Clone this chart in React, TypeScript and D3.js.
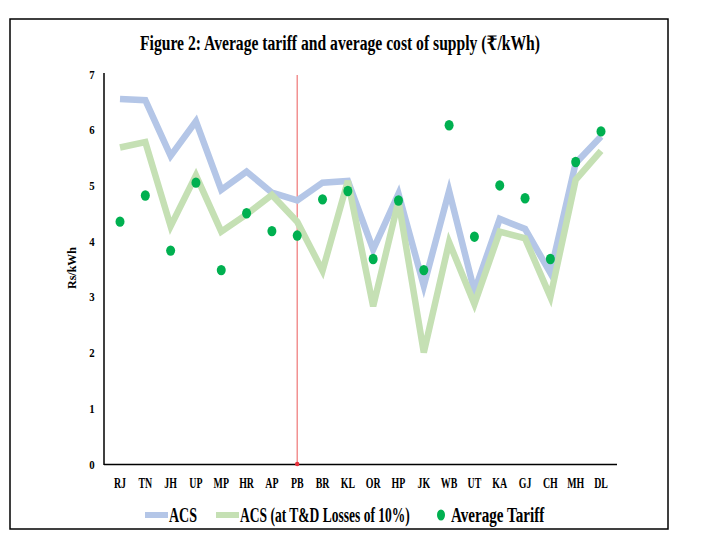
import React from "react";
import * as d3 from "d3";

const categories = ["RJ","TN","JH","UP","MP","HR","AP","PB","BR","KL","OR","HP","JK","WB","UT","KA","GJ","CH","MH","DL"];
const acs = [6.55,6.53,5.53,6.15,4.92,5.25,4.87,4.73,5.05,5.08,3.85,4.85,3.2,4.9,3.1,4.4,4.22,3.43,5.4,5.88];
const acsLoss = [5.68,5.78,4.27,5.18,4.17,4.48,4.83,4.35,3.47,5.08,2.83,4.72,2.0,3.98,2.87,4.17,4.05,3.0,5.1,5.62];
const tariff = [4.35,4.82,3.83,5.05,3.48,4.5,4.18,4.1,4.75,4.9,3.68,4.73,3.48,6.08,4.08,5.0,4.77,3.68,5.42,5.97];
const yTicks = [0,1,2,3,4,5,6,7];
const markerCategory = "PB";

const serif = "'Liberation Serif', 'Times New Roman', 'DejaVu Serif', serif";

export default function App() {
  const x = d3.scalePoint<string>().domain(categories).range([120, 601]);
  const y = d3.scaleLinear().domain([0, 7]).range([464, 74]);
  const line = d3.line<number>().x((_, i) => x(categories[i])!).y((d) => y(d));
  const blue = "#b4c6e7";
  const green = "#c5e0b4";
  const dot = "#00b050";

  return (
    <svg width={720} height={540} style={{ position: "absolute", left: 0, top: 0, background: "#fff" }}>
      <rect x={10} y={19} width={658} height={510} fill="#fff" stroke="#000" strokeWidth={1.5} />
      <text x={340} y={50} textAnchor="middle" fontFamily={serif} fontWeight="bold" fontSize={20} textLength={400} lengthAdjust="spacingAndGlyphs">
        Figure 2: Average tariff and average cost of supply (₹/kWh)
      </text>
      {/* axes */}
      <line x1={104} y1={73} x2={104} y2={465} stroke="#000" strokeWidth={1.5} />
      <line x1={104} y1={464.5} x2={617} y2={464.5} stroke="#000" strokeWidth={1.5} />
      {yTicks.map((t) => (
        <g key={t} transform={`translate(92,${y(t) + 4.5}) scale(0.8,1)`}>
          <text x={0} y={0} textAnchor="middle" fontFamily={serif} fontWeight="bold" fontSize={13.5}>{t}</text>
        </g>
      ))}
      {categories.map((c) => (
        <g key={"l" + c} transform={`translate(${x(c)},488) scale(0.66,1)`}>
          <text x={0} y={0} textAnchor="middle" fontFamily={serif} fontWeight="bold" fontSize={15}>{c}</text>
        </g>
      ))}
      <g transform="translate(76,268) rotate(-90)">
        <text textAnchor="middle" fontFamily={serif} fontWeight="bold" fontSize={12}>Rs/kWh</text>
      </g>
      {/* red marker line */}
      <line x1={x(markerCategory)} y1={75} x2={x(markerCategory)} y2={464} stroke="#f08080" strokeWidth={1.3} />
      <circle cx={x(markerCategory)} cy={464} r={2.2} fill="#e8303a" />
      {/* series */}
      <path d={line(acs)!} fill="none" stroke={blue} strokeWidth={6.5} strokeLinejoin="miter" />
      <path d={line(acsLoss)!} fill="none" stroke={green} strokeWidth={6.5} strokeLinejoin="miter" />
      {tariff.map((v, i) => (
        <ellipse key={i} cx={x(categories[i])} cy={y(v)} rx={4.5} ry={5.2} fill={dot} />
      ))}
      {/* legend */}
      <line x1={145} y1={515} x2={168} y2={515} stroke={blue} strokeWidth={6} />
      <g transform="translate(169,522) scale(0.667,1)">
        <text x={0} y={0} fontFamily={serif} fontWeight="bold" fontSize={21}>ACS</text>
      </g>
      <line x1={216} y1={515} x2={239} y2={515} stroke={green} strokeWidth={6} />
      <g transform="translate(240,522) scale(0.644,1)">
        <text x={0} y={0} fontFamily={serif} fontWeight="bold" fontSize={21}>ACS (at T&amp;D Losses of 10%)</text>
      </g>
      <ellipse cx={441} cy={515} rx={4} ry={5.5} fill={dot} />
      <g transform="translate(451,522) scale(0.72,1)">
        <text x={0} y={0} fontFamily={serif} fontWeight="bold" fontSize={21}>Average Tariff</text>
      </g>
    </svg>
  );
}
